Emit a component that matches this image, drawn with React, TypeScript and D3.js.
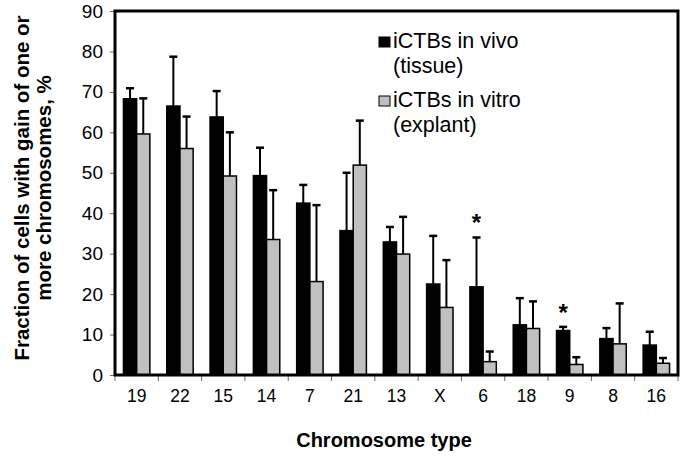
import React, { useEffect, useRef } from 'react';
import * as d3 from 'd3';

const chromosomes = ['19', '22', '15', '14', '7', '21', '13', 'X', '6', '18', '9', '8', '16'];
const seriesNames = ['iCTBs in vivo', 'iCTBs in vitro'];
const seriesSub = ['(tissue)', '(explant)'];
const seriesFill = ['#000000', '#c0c0c0'];
const inVivo = [68.3, 66.5, 63.8, 49.3, 42.5, 35.7, 32.9, 22.5, 21.8, 12.4, 11.0, 9.0, 7.4];
const inVivoErr = [70.9, 78.7, 70.2, 56.2, 47.0, 50.0, 36.6, 34.4, 34.0, 19.0, 11.9, 11.6, 10.7];
const inVitro = [59.6, 56.0, 49.2, 33.5, 23.1, 51.9, 29.9, 16.7, 3.3, 11.5, 2.6, 7.7, 2.9];
const inVitroErr = [68.4, 63.9, 60.0, 45.7, 42.0, 62.9, 39.1, 28.4, 5.8, 18.2, 4.4, 17.7, 4.2];
const starred = ['6', '9'];
const yTicks = [0, 10, 20, 30, 40, 50, 60, 70, 80, 90];

const App: React.FC = () => {
  const svgRef = useRef<SVGSVGElement>(null);

  useEffect(() => {
    if (!svgRef.current) return;
    const svg = d3.select(svgRef.current);
    svg.selectAll('*').remove();

    const width = 683;
    const height = 456;
    const margin = { top: 11, right: 5, bottom: 81, left: 115 };
    const font = 'Liberation Sans, Arial, sans-serif';

    const x0 = d3.scaleBand<string>()
      .domain(chromosomes)
      .range([margin.left, width - margin.right])
      .padding(0);
    const x1 = d3.scaleBand<number>()
      .domain([0, 1])
      .range([0, x0.bandwidth()])
      .paddingInner(0)
      .paddingOuter(0.64);
    const y = d3.scaleLinear()
      .domain([0, 90])
      .range([height - margin.bottom, margin.top]);

    const values = [inVivo, inVitro];
    const errs = [inVivoErr, inVitroErr];

    // bars
    const groups = svg.append('g')
      .selectAll('g')
      .data(chromosomes)
      .enter().append('g')
      .attr('transform', d => `translate(${x0(d)},0)`);

    [0, 1].forEach(s => {
      groups.append('rect')
        .attr('x', x1(s)!)
        .attr('y', (_d, i) => y(values[s][i]))
        .attr('width', x1.bandwidth())
        .attr('height', (_d, i) => y(0) - y(values[s][i]))
        .attr('fill', seriesFill[s])
        .attr('stroke', '#000')
        .attr('stroke-width', 1.5);

      const cx = x1(s)! + x1.bandwidth() / 2;
      groups.append('line')
        .attr('x1', cx).attr('x2', cx)
        .attr('y1', (_d, i) => y(values[s][i]))
        .attr('y2', (_d, i) => y(errs[s][i]))
        .attr('stroke', '#000')
        .attr('stroke-width', 2);
      groups.append('line')
        .attr('x1', cx - 4).attr('x2', cx + 4)
        .attr('y1', (_d, i) => y(errs[s][i]))
        .attr('y2', (_d, i) => y(errs[s][i]))
        .attr('stroke', '#000')
        .attr('stroke-width', 2.5);
    });

    // asterisks
    svg.append('g')
      .selectAll('text')
      .data(starred)
      .enter().append('text')
      .attr('x', d => x0(d)! + x1(0)! + x1.bandwidth() / 2)
      .attr('y', d => y(inVivoErr[chromosomes.indexOf(d)]) - 6)
      .attr('text-anchor', 'middle')
      .attr('font-family', font)
      .attr('font-size', 24)
      .attr('font-weight', 'bold')
      .text('*');

    // y axis
    const yAxis = svg.append('g')
      .attr('transform', `translate(${margin.left},0)`)
      .call(d3.axisLeft(y).tickValues(yTicks).tickSize(5).tickPadding(7));
    yAxis.select('.domain').remove();
    yAxis.selectAll('.tick line').attr('stroke', '#666');
    yAxis.selectAll('.tick text')
      .attr('font-family', font)
      .attr('font-size', 19)
      .attr('fill', '#000');

    // x axis
    const xAxis = svg.append('g')
      .attr('transform', `translate(0,${y(0)})`)
      .call(d3.axisBottom(x0).tickSize(0).tickPadding(15));
    xAxis.select('.domain').remove();
    xAxis.selectAll('.tick text')
      .attr('font-family', font)
      .attr('font-size', 17.5)
      .attr('fill', '#000');
    xAxis.selectAll('.sep')
      .data(chromosomes.concat(['end']))
      .enter().append('line')
      .attr('x1', (_d, i) => margin.left + i * x0.step())
      .attr('x2', (_d, i) => margin.left + i * x0.step())
      .attr('y1', 0).attr('y2', 6)
      .attr('stroke', '#666');

    // frame
    svg.append('path')
      .attr('d', `M${margin.left},${y(0)}V${y(90)}H${width - margin.right}V${y(0)}Z`)
      .attr('fill', 'none')
      .attr('stroke', '#000')
      .attr('stroke-width', 3);

    // legend
    const legend = svg.append('g').attr('font-family', font).attr('font-size', 21.5);
    [0, 1].forEach(s => {
      const ly = 48 + s * 59;
      legend.append('rect')
        .attr('x', 379).attr('y', ly - 11)
        .attr('width', 11).attr('height', 10)
        .attr('fill', seriesFill[s])
        .attr('stroke', '#000').attr('stroke-width', 1);
      legend.append('text').attr('x', 393).attr('y', ly).text(seriesNames[s]);
      legend.append('text').attr('x', 393).attr('y', ly + 25).text(seriesSub[s]);
    });

    // axis titles
    svg.append('text')
      .attr('x', 384)
      .attr('y', 447)
      .attr('text-anchor', 'middle')
      .attr('font-family', font)
      .attr('font-size', 20)
      .attr('font-weight', 'bold')
      .text('Chromosome type');

    const yTitle = svg.append('text')
      .attr('transform', 'translate(0,188) rotate(-90)')
      .attr('text-anchor', 'middle')
      .attr('font-family', font)
      .attr('font-size', 20.5)
      .attr('font-weight', 'bold');
    yTitle.append('tspan').attr('x', 0).attr('y', 29).text('Fraction of cells with gain of one or');
    yTitle.append('tspan').attr('x', 0).attr('y', 51).text('more chromosomes, %');
  }, []);

  return (
    <svg ref={svgRef} width="683" height="456"
      style={{ position: 'absolute', left: 0, top: 0, background: '#fff' }} />
  );
};

export default App;
